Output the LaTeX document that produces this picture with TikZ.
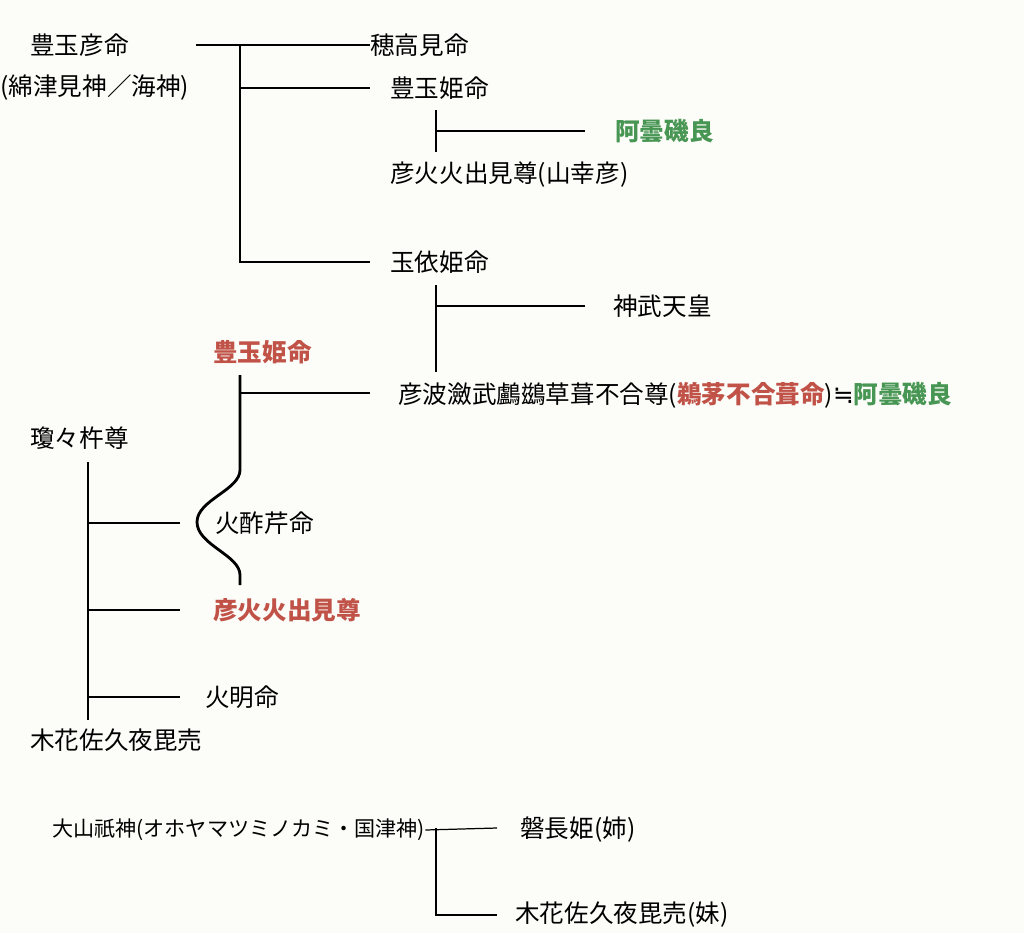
\documentclass[tikz,border=0pt]{standalone}
\usepackage{fontspec}
\setmainfont{Noto Sans CJK JP}
\newfontfamily\symfont{DejaVu Sans}
\usetikzlibrary{positioning}
\definecolor{nameRed}{RGB}{192,82,72}
\definecolor{nameGreen}{RGB}{72,150,84}
\definecolor{paper}{RGB}{252,252,248}
\tikzset{
    person/.style={anchor=west, inner sep=0pt, font=\fontsize{14}{16}\selectfont},
    small person/.style={person, font=\fontsize{12}{14}\selectfont},
    red person/.style={person, text=nameRed, font=\fontsize{14}{16}\selectfont\bfseries},
    green person/.style={person, text=nameGreen, font=\fontsize{14}{16}\selectfont\bfseries},
    link/.style={draw, line width=0.7pt},
    wave/.style={draw, line width=1.6pt}
}
\begin{document}
\begin{tikzpicture}[x=0.02cm,y=-0.02cm]
    % paper
    \fill[paper] (0,0) rectangle (1024,933);
    \useasboundingbox (0,0) rectangle (1024,933);

    % sea god line
    \node[person] (toyotamahiko) at (30,45) {豊玉彦命};
    \node[person] (watatsumi) at (0,88) {(綿津見神／海神)};
    \node[person] (hotakami) at (370,45) {穂高見命};
    \node[person] (toyotamahime) at (390,88) {豊玉姫命};
    \node[green person] (azumi) at (615,131) {阿曇磯良};
    \node[person] (yamasachi) at (390,175) {彦火火出見尊(山幸彦)};
    \node[person] (tamayori) at (390,262) {玉依姫命};
    \node[person] (jimmu) at (613,306) {神武天皇};
    \node[red person] (toyotamahimeR) at (213,352) {豊玉姫命};
    \node[person] (ugaya) at (398,395) {彦波瀲武鸕鷀草葺不合尊(\textcolor{nameRed}{\bfseries 鵜茅不合葺命}){\symfont ≒}\textcolor{nameGreen}{\bfseries 阿曇磯良}};

    \coordinate (seaTop) at (240,45);
    \coordinate (seaBot) at (240,262);
    \draw[link] (196,45) -- (hotakami.west);
    \draw[link] (seaTop) -- (seaBot) -- (370,262);
    \draw[link] (240,88) -- (370,88);
    \draw[link] (436,110) -- (436,152);
    \draw[link] (436,131) -- (585,131);
    \draw[link] (436,285) -- (436,372);
    \draw[link] (436,306) -- (585,306);

    % heavenly grandson line
    \node[person] (ninigi) at (30,438) {瓊々杵尊};
    \node[person] (hosuseri) at (215,523) {火酢芹命};
    \node[red person] (hoori) at (213,610) {彦火火出見尊};
    \node[person] (hoakari) at (205,697) {火明命};
    \node[person] (sakuya) at (30,740) {木花佐久夜毘売};

    \draw[link] (88,462) -- (88,720);
    \foreach \y in {523,610,697}
        \draw[link] (88,\y) -- (180,\y);
    \draw[link] (240,393) -- (370,393);
    \draw[wave] (240,375) -- (240,470)
        .. controls (240,490) and (197,500) .. (197,522)
        .. controls (197,545) and (240,555) .. (240,575)
        -- (240,585);

    % mountain god line
    \node[small person] (ohoyama) at (52,830) {大山祇神(オホヤマツミノカミ・国津神)};
    \node[person] (iwanaga) at (520,830) {磐長姫(姉)};
    \node[person] (sakuyaImo) at (515,915) {木花佐久夜毘売(妹)};
    \draw[link] (ohoyama.east) -- (497,828);
    \draw[link] (436,828) -- (436,915) -- (497,915);
\end{tikzpicture}
\end{document}
